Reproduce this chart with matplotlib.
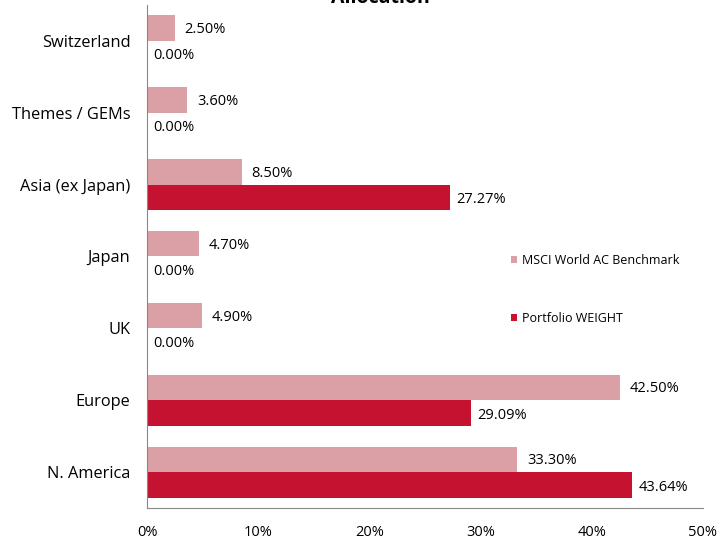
import matplotlib.pyplot as plt
import numpy as np

regions = ['N. America', 'Europe', 'UK', 'Japan', 'Asia (ex Japan)', 'Themes / GEMs', 'Switzerland']
benchmark = [33.30, 42.50, 4.90, 4.70, 8.50, 3.60, 2.50]
portfolio = [43.64, 29.09, 0.00, 0.00, 27.27, 0.00, 0.00]
ticks = [0, 10, 20, 30, 40, 50]

bench_col = '#DBA0A5'
port_col = '#C41230'

plt.rcParams['font.family'] = ['Open Sans', 'DejaVu Sans']

fig = plt.figure(figsize=[7.21, 5.40], dpi=100)
ax = fig.add_axes([0.204, 0.059, 0.771, 0.932])

y = np.arange(len(regions))
h = 0.355
ax.barh(y + h / 2, benchmark, height=h, color=bench_col, label='MSCI World AC Benchmark')
ax.barh(y - h / 2, portfolio, height=h, color=port_col, label='Portfolio WEIGHT')

for i in range(len(regions)):
	ax.annotate('%.2f%%' % benchmark[i], (benchmark[i], y[i] + h / 2), xytext=(7, -1),
		textcoords='offset points', va='center', ha='left', fontsize=10.5)
	ax.annotate('%.2f%%' % portfolio[i], (portfolio[i], y[i] - h / 2), xytext=(4.5, -1.5),
		textcoords='offset points', va='center', ha='left', fontsize=10.5)

ax.set_xlim(0, 50)
ax.set_ylim(-0.5, 6.5)
ax.set_xticks(ticks)
ax.set_xticklabels(['%d%%' % t for t in ticks], fontsize=10.5)
ax.set_yticks(y)
ax.set_yticklabels(regions, fontsize=11.8)
ax.tick_params(axis='x', length=0, pad=12)
ax.tick_params(axis='y', length=0, pad=12)
for s in ['top', 'right']:
	ax.spines[s].set_visible(False)
for s in ['left', 'bottom']:
	ax.spines[s].set_color('#888888')
	ax.spines[s].set_linewidth(0.8)

ax.legend(loc='upper left', bbox_to_anchor=(0.6925, 0.551), bbox_transform=fig.transFigure,
	frameon=False, fontsize=9, handlelength=0.55, handleheight=0.55, handletextpad=0.35,
	labelspacing=3.6)

fig.text(0.527, 0.9944, 'Allocation', ha='center', va='baseline', fontsize=14, fontweight='bold')

plt.savefig('out.png', dpi=100)
plt.close()
